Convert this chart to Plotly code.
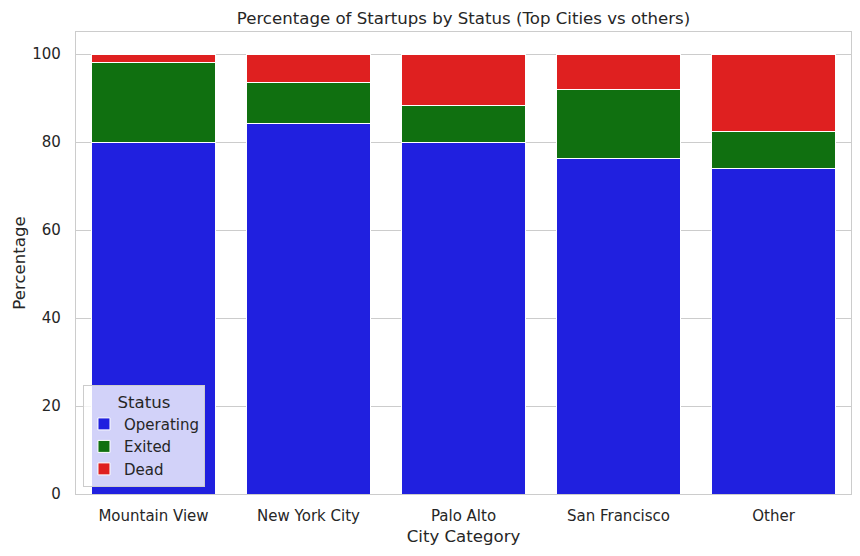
import plotly.graph_objects as go

cities = ["Mountain View", "New York City", "Palo Alto", "San Francisco", "Other"]
operating = [80.0, 84.2, 80.0, 76.3, 74.0]
exited = [18.0, 9.4, 8.3, 15.7, 8.4]
dead = [2.0, 6.4, 11.7, 8.0, 17.6]
y_ticks = [0, 20, 40, 60, 80, 100]

series = [("Operating", operating, "#2020df"),
          ("Exited", exited, "#107010"),
          ("Dead", dead, "#df2020")]

fig = go.Figure()
for name, vals, col in series:
    fig.add_trace(go.Bar(x=cities, y=vals, name=name,
                         marker=dict(color=col, line=dict(color="white", width=1))))

font_color = "#262626"
fig.update_layout(
    width=860, height=556,
    margin=dict(l=76, r=9, t=32, b=62, autoexpand=False),
    barmode="stack", bargap=0.2,
    plot_bgcolor="white", paper_bgcolor="white",
    font=dict(family="DejaVu Sans", color=font_color, size=15),
    title=dict(text="Percentage of Startups by Status (Top Cities vs others)",
               x=(76 + 851) / 2 / 860, xanchor="center", y=1 - 18 / 556, yanchor="middle",
               font=dict(size=16.6, color=font_color)),
    legend=dict(title=dict(text="Status", font=dict(size=16.6), side="top center"),
                x=0.009, y=0.015, xanchor="left", yanchor="bottom",
                bgcolor="rgba(255,255,255,0.8)", bordercolor="#cccccc", borderwidth=1,
                font=dict(size=15), traceorder="normal"),
    xaxis=dict(title=dict(text="City Category", font=dict(size=16.6), standoff=6),
               automargin=False, ticklabelstandoff=8,
               showgrid=False, showline=True, linecolor="#cccccc", linewidth=1.25,
               mirror=True, ticks="", tickfont=dict(size=15)),
    yaxis=dict(title=dict(text="Percentage", font=dict(size=16.6), standoff=2),
               automargin=False, ticklabelstandoff=11,
               range=[0, 105], tickvals=y_ticks, showgrid=True, gridcolor="#cccccc",
               gridwidth=1, showline=True, linecolor="#cccccc", linewidth=1.25,
               mirror=True, ticks="", zeroline=False, tickfont=dict(size=15)),
)

fig.write_html("out.html", post_script="document.body.style.margin='0';",
               config={"displayModeBar": False})
